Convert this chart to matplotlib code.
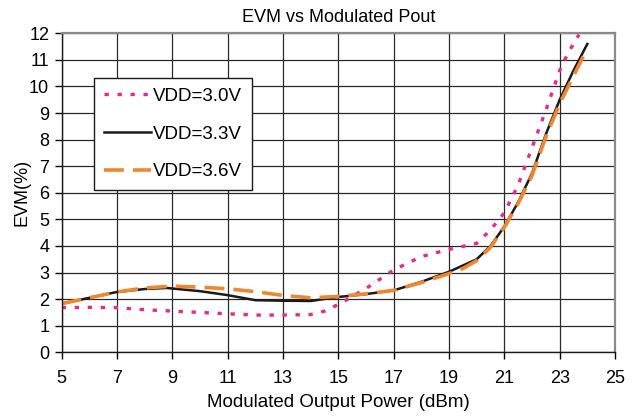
import matplotlib
matplotlib.use("Agg")
import matplotlib.pyplot as plt

plt.rcParams['font.family'] = ['Liberation Sans', 'DejaVu Sans']

x_30 = [5, 6, 7, 8, 9, 10, 11, 12, 13, 14, 14.5, 15, 15.5, 16, 16.5, 17, 18, 19, 20,
        20.5, 21, 21.5, 22, 22.5, 23, 23.3, 23.7]
evm_30 = [1.68, 1.69, 1.68, 1.6, 1.55, 1.5, 1.45, 1.4, 1.4, 1.42, 1.55, 1.8, 2.1, 2.4,
          2.75, 3.1, 3.6, 3.87, 4.1, 4.6, 5.25, 6.3, 7.7, 9.1, 10.6, 11.25, 11.95]

x_33 = [5, 6, 7, 8, 8.8, 10, 11, 12, 13, 14, 15, 16, 17, 18, 19, 20, 20.5, 21, 21.5,
        22, 22.5, 23, 23.5, 24]
evm_33 = [1.83, 2.05, 2.27, 2.38, 2.42, 2.3, 2.15, 1.96, 1.94, 1.93, 2.08, 2.19, 2.33,
          2.65, 3.03, 3.5, 4.0, 4.73, 5.65, 6.73, 8.2, 9.5, 10.6, 11.6]

x_36 = [5, 6, 7, 8, 9, 10, 11, 12, 13, 14, 15, 16, 17, 18, 19, 19.5, 20, 20.5, 21,
        21.5, 22, 22.5, 23, 23.5, 23.85]
evm_36 = [1.83, 2.05, 2.27, 2.42, 2.49, 2.45, 2.39, 2.28, 2.14, 2.05, 2.1, 2.2, 2.33,
          2.62, 2.96, 3.15, 3.45, 3.95, 4.7, 5.6, 6.65, 8.1, 9.35, 10.4, 11.12]

labels = ['VDD=3.0V', 'VDD=3.3V', 'VDD=3.6V']
x_ticks = list(range(5, 26, 2))
y_ticks = list(range(0, 13))

fig = plt.figure(figsize=(6.39, 4.19), dpi=100)
ax = fig.add_axes([61.7 / 639, 1 - 352.3 / 419, (615 - 61.7) / 639, (352.3 - 33.3) / 419])

ax.plot(x_30, evm_30, color='#e8288c', lw=2.4, linestyle=(0, (1.3, 2.6)),
        dash_capstyle='butt', label=labels[0])
ax.plot(x_33, evm_33, color='#1a1a1a', lw=1.8, label=labels[1])
ax.plot(x_36, evm_36, color='#ef8630', lw=2.6, linestyle=(0, (5.5, 2.5)),
        dash_capstyle='butt', label=labels[2])

ax.set_xlim(5, 25)
ax.set_ylim(0, 12)
ax.set_xticks(x_ticks)
ax.set_yticks(y_ticks)
ax.grid(True, color='#2a2a2a', lw=0.9)
ax.set_axisbelow(True)
for s in ['top', 'right']:
    ax.spines[s].set_color('#8a8a8a')
    ax.spines[s].set_linewidth(1.6)
for s in ['left', 'bottom']:
    ax.spines[s].set_color('#1a1a1a')
    ax.spines[s].set_linewidth(1.0)
ax.tick_params(direction='out', length=5, width=1, labelsize=13)
ax.tick_params(axis='x', pad=8)
ax.tick_params(axis='y', pad=4)

ax.set_title('EVM vs Modulated Pout', fontsize=13, pad=8)
ax.set_xlabel('Modulated Output Power (dBm)', fontsize=13.5, labelpad=5)
ax.set_ylabel('EVM(%)', fontsize=13, labelpad=-1)

leg = ax.legend(loc='upper left', bbox_to_anchor=(0.059, 0.859), borderaxespad=0,
                fontsize=13.5, frameon=True, fancybox=False, framealpha=1,
                edgecolor='#1a1a1a', handlelength=2.5, handletextpad=0.15,
                labelspacing=1.1, borderpad=0.5)
leg.get_frame().set_linewidth(1.0)

fig.savefig('out.png', dpi=100)
